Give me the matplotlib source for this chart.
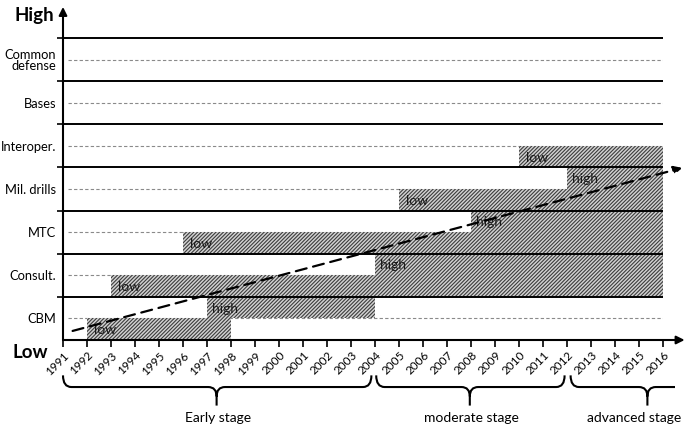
import matplotlib
matplotlib.use("Agg")
import matplotlib.pyplot as plt
from matplotlib.path import Path
from matplotlib.patches import PathPatch
import matplotlib.transforms as mtransforms

plt.rcParams['font.family'] = ['Lato', 'DejaVu Sans']
plt.rcParams['hatch.linewidth'] = 0.8

# ---------------- data ----------------
categories = ['CBM', 'Consult.', 'MTC', 'Mil. drills', 'Interoper.', 'Bases', 'Common\ndefense']
low_start = [1992, 1993, 1996, 2005, 2010, None, None]
low_end = [1998, 2016, 2016, 2016, 2016, None, None]
high_start = [1997, 2004, 2008, 2012, None, None, None]
high_end = [2004, 2016, 2016, 2016, None, None, None]
years = list(range(1991, 2017))
stage_names = ['Early stage', 'moderate stage', 'advanced stage']
stage_start = [1991.0, 2004.05, 2012.15]
stage_end = [2003.85, 2011.9, 2016.5]
stage_tip = [1997.4, 2007.95, 2015.35]
trend_x = [1991.4, 2016.8]
trend_y = [0.21, 3.99]

# ---------------- figure ----------------
W, H = 685, 428
fig = plt.figure(figsize=(W / 100, H / 100), dpi=100)
ax = fig.add_axes([63 / W, 88 / H, 600 / W, 302 / H])
ax.set_xlim(1991, 2016)
ax.set_ylim(0, 7)
for s in ax.spines.values():
    s.set_visible(False)

n = len(categories)
hatch_face = '#d2d2d2'
hatch_edge = '#3c3c3c'

# dashed mid lines
for i in range(n):
    ax.plot([1991.2, 2016], [i + 0.5, i + 0.5], color='#8a8a8a', lw=0.8,
            dashes=(3, 2), zorder=1)

# bars
for i in range(n):
    if low_start[i] is not None:
        ax.barh(i + 0.25, low_end[i] - low_start[i], left=low_start[i], height=0.5,
                facecolor=hatch_face, edgecolor=hatch_edge, hatch='/////////', lw=0, zorder=2)
        ax.text(low_start[i] + 0.3, i + 0.23, 'low', fontsize=10, color='#1a1a1a',
                va='center', ha='left', zorder=5)
    if high_start[i] is not None:
        ax.barh(i + 0.75, high_end[i] - high_start[i], left=high_start[i], height=0.5,
                facecolor=hatch_face, edgecolor=hatch_edge, hatch='/////////', lw=0, zorder=2)
        ax.text(high_start[i] + 0.2, i + 0.73, 'high', fontsize=10, color='#1a1a1a',
                va='center', ha='left', zorder=5)

# solid separators
for i in range(1, n + 1):
    ax.plot([1991, 2016], [i, i], color='black', lw=1.4, zorder=3,
            solid_capstyle='butt', clip_on=False)

# axes arrows
ax.annotate('', xy=(1991, 7.72), xytext=(1991, 0), xycoords='data',
            arrowprops=dict(arrowstyle='-|>', color='black', lw=1.5,
                            mutation_scale=12, shrinkA=0, shrinkB=0),
            annotation_clip=False, zorder=6)
ax.annotate('', xy=(2016.9, 0), xytext=(1991, 0), xycoords='data',
            arrowprops=dict(arrowstyle='-|>', color='black', lw=1.5,
                            mutation_scale=12, shrinkA=0, shrinkB=0),
            annotation_clip=False, zorder=6)

# trend arrow
ax.annotate('', xy=(trend_x[1], trend_y[1]), xytext=(trend_x[0], trend_y[0]),
            arrowprops=dict(arrowstyle='-|>', color='black', lw=1.6, linestyle=(0, (5, 3)),
                            mutation_scale=12, shrinkA=0, shrinkB=0),
            annotation_clip=False, zorder=7)

# ticks
ax.set_xticks(years)
ax.set_xticklabels([str(y) for y in years], rotation=45, ha='right',
                   rotation_mode='anchor', fontsize=8.5)
offset = mtransforms.ScaledTranslation(4 / 100, 0, fig.dpi_scale_trans)
for lab in ax.get_xticklabels():
    lab.set_transform(lab.get_transform() + offset)
ax.tick_params(axis='x', direction='out', length=5, width=1.2, pad=2)

ax.set_yticks(range(1, n + 1))
ax.set_yticklabels([])
ax.tick_params(axis='y', which='major', direction='out', length=4, width=1.2)
ax.set_yticks([i + 0.5 for i in range(n)], minor=True)
ax.set_yticklabels(categories, minor=True, fontsize=9.3, linespacing=0.95)
ax.tick_params(axis='y', which='minor', length=0, pad=5)

# High / Low
fig.text(14 / W, 1 - 16 / H, 'High', fontsize=13.5, fontweight='bold', va='center', ha='left')
fig.text(13 / W, 1 - 353 / H, 'Low', fontsize=13.5, fontweight='bold', va='center', ha='left')

# braces
y_top, y_mid, y_tip = -0.82, -1.09, -1.52
r, dr = 0.35, 0.22
for name, x0, x1, xm in zip(stage_names, stage_start, stage_end, stage_tip):
    verts = [(x0, y_top), (x0, y_mid), (x0 + r, y_mid),
             (xm - r, y_mid),
             (xm, y_mid), (xm, y_mid - dr),
             (xm, y_tip),
             (xm, y_mid - dr), (xm, y_mid), (xm + r, y_mid),
             (x1 - r, y_mid),
             (x1, y_mid), (x1, y_top)]
    codes = [Path.MOVETO, Path.CURVE3, Path.CURVE3,
             Path.LINETO,
             Path.CURVE3, Path.CURVE3,
             Path.LINETO,
             Path.MOVETO, Path.CURVE3, Path.CURVE3,
             Path.LINETO,
             Path.CURVE3, Path.CURVE3]
    if name == 'advanced stage':
        verts = verts[:11]
        verts[-1] = (x1, y_mid)
        codes = codes[:11]
        ax.text(2016.75, -1.8, name, fontsize=10, ha='right', va='center')
    else:
        ax.text(xm + 0.05, -1.8, name, fontsize=10, ha='center', va='center')
    ax.add_patch(PathPatch(Path(verts, codes), facecolor='none', edgecolor='black',
                           lw=1.5, clip_on=False))

fig.savefig('out.png', dpi=100)
